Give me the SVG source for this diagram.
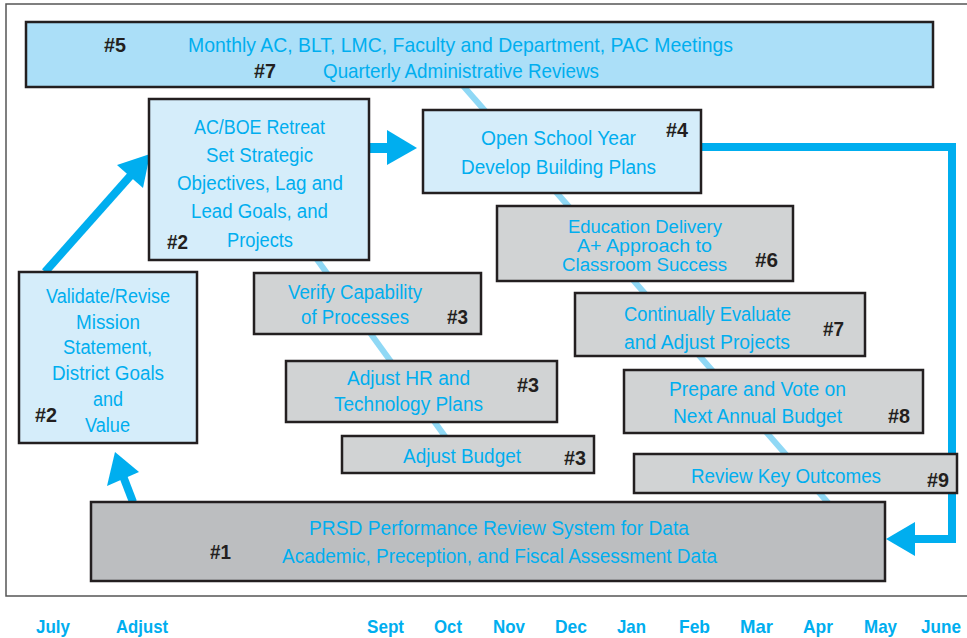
<svg xmlns="http://www.w3.org/2000/svg" width="967" height="638" viewBox="0 0 967 638">
<style>
.box{stroke:#231f20;stroke-width:2.5}
.bar{fill:#abdff8}
.lt{fill:#d5edfa}
.gr{fill:#d1d3d4}
.dk{fill:#bcbec0}
.t{font-family:"Liberation Sans",Arial,sans-serif;font-size:20px;fill:#00aeef}
.tb{font-size:21px}
.ts{font-size:18px}
.h{font-family:"Liberation Sans",Arial,sans-serif;font-size:20px;font-weight:bold;fill:#231f20}
.m{font-family:"Liberation Sans",Arial,sans-serif;font-size:19px;font-weight:bold;fill:#00aeef}
.diag{stroke:#8fd8f5;stroke-width:6;fill:none}
.arr{stroke:#00aeef;stroke-width:8;fill:none}
.head{fill:#00aeef}
</style>
<rect x="0" y="0" width="967" height="638" fill="#fff"/>
<rect x="6" y="4" width="975" height="592" fill="none" stroke="#555" stroke-width="1.5"/>
<g id="connectors">
<line class="diag" x1="458" y1="80" x2="830" y2="505"/>
<line class="diag" x1="300" y1="236" x2="452" y2="446"/>
<line class="arr" x1="133" y1="502" x2="123" y2="476"/>
<polygon class="head" points="115,452 107,486 139,472"/>
<line class="arr" x1="45" y1="272" x2="132" y2="174"/>
<polygon class="head" points="150,154 117,165 143,188"/>
<rect class="head" x="369" y="143" width="20" height="10"/>
<polygon class="head" points="387,130 417,148 387,165"/>
<polyline class="arr" stroke-width="7" points="701,147 952,147 952,539 912,539"/>
<polygon class="head" points="915,522 886,539 915,556"/>
</g>
<g id="n5">
<rect class="box bar" x="26" y="22" width="907" height="65"/>
<text class="h" x="104" y="52" textLength="22" lengthAdjust="spacingAndGlyphs">#5</text>
<text class="t tb" x="188" y="52" textLength="545" lengthAdjust="spacingAndGlyphs">Monthly AC, BLT, LMC, Faculty and Department, PAC Meetings</text>
<text class="h" x="254" y="78" textLength="22" lengthAdjust="spacingAndGlyphs">#7</text>
<text class="t tb" x="323" y="78" textLength="276" lengthAdjust="spacingAndGlyphs">Quarterly Administrative Reviews</text>
</g>
<g id="n2b">
<rect class="box lt" x="149" y="99" width="220" height="161"/>
<text class="t" x="194" y="134" textLength="131" lengthAdjust="spacingAndGlyphs">AC/BOE Retreat</text>
<text class="t" x="206" y="162" textLength="107" lengthAdjust="spacingAndGlyphs">Set Strategic</text>
<text class="t" x="177" y="190" textLength="166" lengthAdjust="spacingAndGlyphs">Objectives, Lag and</text>
<text class="t" x="191" y="218" textLength="137" lengthAdjust="spacingAndGlyphs">Lead Goals, and</text>
<text class="t" x="227" y="247" textLength="66" lengthAdjust="spacingAndGlyphs">Projects</text>
<text class="h" x="167" y="249" textLength="21" lengthAdjust="spacingAndGlyphs">#2</text>
</g>
<g id="n4">
<rect class="box lt" x="423" y="110" width="278" height="83"/>
<text class="t" x="481" y="145" textLength="155" lengthAdjust="spacingAndGlyphs">Open School Year</text>
<text class="t" x="461" y="174" textLength="195" lengthAdjust="spacingAndGlyphs">Develop Building Plans</text>
<text class="h" x="666" y="137" textLength="22" lengthAdjust="spacingAndGlyphs">#4</text>
</g>
<g id="n2a">
<rect class="box lt" x="19" y="272" width="178" height="171"/>
<text class="t" x="46" y="303" textLength="124" lengthAdjust="spacingAndGlyphs">Validate/Revise</text>
<text class="t" x="76" y="329" textLength="64" lengthAdjust="spacingAndGlyphs">Mission</text>
<text class="t" x="63" y="354" textLength="89" lengthAdjust="spacingAndGlyphs">Statement,</text>
<text class="t" x="52" y="380" textLength="112" lengthAdjust="spacingAndGlyphs">District Goals</text>
<text class="t" x="93" y="406" textLength="30" lengthAdjust="spacingAndGlyphs">and</text>
<text class="t" x="85" y="432" textLength="45" lengthAdjust="spacingAndGlyphs">Value</text>
<text class="h" x="35" y="422" textLength="22" lengthAdjust="spacingAndGlyphs">#2</text>
</g>
<g id="n6">
<rect class="box gr" x="497" y="206" width="296" height="75"/>
<text class="t ts" x="568" y="233" textLength="154" lengthAdjust="spacingAndGlyphs">Education Delivery</text>
<text class="t ts" x="577" y="252" textLength="135" lengthAdjust="spacingAndGlyphs">A+ Approach to</text>
<text class="t ts" x="562" y="271" textLength="165" lengthAdjust="spacingAndGlyphs">Classroom Success</text>
<text class="h" x="755" y="267" textLength="23" lengthAdjust="spacingAndGlyphs">#6</text>
</g>
<g id="n3a">
<rect class="box gr" x="254" y="273" width="227" height="61"/>
<text class="t" x="288" y="299" textLength="134" lengthAdjust="spacingAndGlyphs">Verify Capability</text>
<text class="t" x="301" y="324" textLength="108" lengthAdjust="spacingAndGlyphs">of Processes</text>
<text class="h" x="447" y="324" textLength="21" lengthAdjust="spacingAndGlyphs">#3</text>
</g>
<g id="n7">
<rect class="box gr" x="575" y="293" width="290" height="63"/>
<text class="t" x="624" y="321" textLength="167" lengthAdjust="spacingAndGlyphs">Continually Evaluate</text>
<text class="t" x="624" y="349" textLength="166" lengthAdjust="spacingAndGlyphs">and Adjust Projects</text>
<text class="h" x="823" y="336" textLength="21" lengthAdjust="spacingAndGlyphs">#7</text>
</g>
<g id="n3b">
<rect class="box gr" x="286" y="361" width="271" height="61"/>
<text class="t" x="347" y="385" textLength="123" lengthAdjust="spacingAndGlyphs">Adjust HR and</text>
<text class="t" x="334" y="411" textLength="149" lengthAdjust="spacingAndGlyphs">Technology Plans</text>
<text class="h" x="517" y="392" textLength="22" lengthAdjust="spacingAndGlyphs">#3</text>
</g>
<g id="n8">
<rect class="box gr" x="624" y="370" width="299" height="63"/>
<text class="t" x="669" y="396" textLength="177" lengthAdjust="spacingAndGlyphs">Prepare and Vote on</text>
<text class="t" x="673" y="423" textLength="169" lengthAdjust="spacingAndGlyphs">Next Annual Budget</text>
<text class="h" x="888" y="423" textLength="22" lengthAdjust="spacingAndGlyphs">#8</text>
</g>
<g id="n3c">
<rect class="box gr" x="342" y="436" width="252" height="37"/>
<text class="t" x="403" y="463" textLength="118" lengthAdjust="spacingAndGlyphs">Adjust Budget</text>
<text class="h" x="564" y="465" textLength="22" lengthAdjust="spacingAndGlyphs">#3</text>
</g>
<g id="n9">
<rect class="box gr" x="634" y="454" width="323" height="39"/>
<text class="t" x="691" y="483" textLength="190" lengthAdjust="spacingAndGlyphs">Review Key Outcomes</text>
<text class="h" x="927" y="487" textLength="22" lengthAdjust="spacingAndGlyphs">#9</text>
</g>
<g id="n1">
<rect class="box dk" x="91" y="502" width="794" height="79"/>
<text class="t" x="309" y="535" textLength="380" lengthAdjust="spacingAndGlyphs">PRSD Performance Review System for Data</text>
<text class="t" x="282" y="563" textLength="435" lengthAdjust="spacingAndGlyphs">Academic, Preception, and Fiscal Assessment Data</text>
<text class="h" x="210" y="559" textLength="21" lengthAdjust="spacingAndGlyphs">#1</text>
</g>
<g id="months">
<text class="m" x="36" y="633" textLength="34" lengthAdjust="spacingAndGlyphs">July</text>
<text class="m" x="116" y="633" textLength="52" lengthAdjust="spacingAndGlyphs">Adjust</text>
<text class="m" x="367" y="633" textLength="37" lengthAdjust="spacingAndGlyphs">Sept</text>
<text class="m" x="434" y="633" textLength="28" lengthAdjust="spacingAndGlyphs">Oct</text>
<text class="m" x="493" y="633" textLength="32" lengthAdjust="spacingAndGlyphs">Nov</text>
<text class="m" x="555" y="633" textLength="32" lengthAdjust="spacingAndGlyphs">Dec</text>
<text class="m" x="617" y="633" textLength="29" lengthAdjust="spacingAndGlyphs">Jan</text>
<text class="m" x="679" y="633" textLength="31" lengthAdjust="spacingAndGlyphs">Feb</text>
<text class="m" x="740" y="633" textLength="33" lengthAdjust="spacingAndGlyphs">Mar</text>
<text class="m" x="803" y="633" textLength="30" lengthAdjust="spacingAndGlyphs">Apr</text>
<text class="m" x="864" y="633" textLength="33" lengthAdjust="spacingAndGlyphs">May</text>
<text class="m" x="921" y="633" textLength="40" lengthAdjust="spacingAndGlyphs">June</text>
</g>
</svg>
